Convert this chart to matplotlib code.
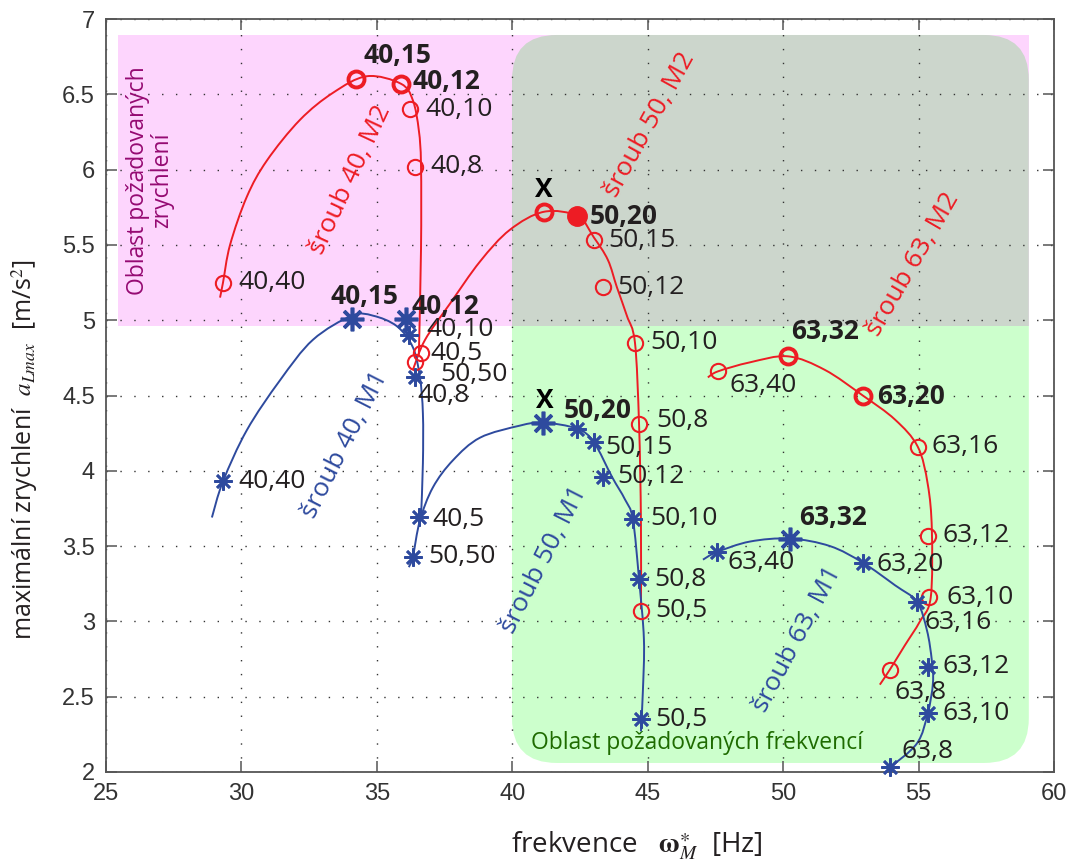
import matplotlib.pyplot as plt
import numpy as np
from matplotlib.path import Path
from matplotlib.patches import PathPatch, Rectangle, FancyBboxPatch

RED = '#ed1c24'
BLUE = '#2e4a9e'
TXT = '#231f20'

# osy
x_ticks = [25, 30, 35, 40, 45, 50, 55, 60]
x_tick_labels = ['25', '30', '35', '40', '45', '50', '55', '60']
y_ticks = [2, 2.5, 3, 3.5, 4, 4.5, 5, 5.5, 6, 6.5, 7]
y_tick_labels = ['2', '2.5', '3', '3.5', '4', '4.5', '5', '5.5', '6', '6.5', '7']

# oblasti (frekvence, zrychleni)
acc_region_x = [25.44, 59.07]
acc_region_y = [4.962, 6.894]
freq_region_x = [39.99, 59.07]
freq_region_y = [2.06, 6.894]

# sroub 40, M2 (cervena)
r40_cx = [29.21, 29.32, 29.58, 30.20, 30.94, 32.16, 33.38, 34.63, 35.89, 36.33, 36.55, 36.63, 36.63, 36.55]
r40_cy = [5.15, 5.25, 5.50, 5.82, 6.06, 6.33, 6.51, 6.62, 6.57, 6.46, 6.26, 6.03, 5.47, 4.77]
r40_x = [29.32, 34.23, 35.89, 36.22, 36.41, 36.63]
r40_y = [5.25, 6.60, 6.57, 6.40, 6.02, 4.78]
r40_lab = ['40,40', '40,15', '40,12', '40,10', '40,8', '40,5']

# sroub 50, M2
r50_cx = [36.33, 36.78, 37.70, 38.81, 39.91, 41.17, 42.42, 43.01, 43.53, 43.86, 44.23, 44.53, 44.68, 44.75, 44.75]
r50_cy = [4.67, 4.87, 5.11, 5.39, 5.60, 5.72, 5.69, 5.55, 5.40, 5.22, 5.03, 4.85, 4.31, 3.67, 3.08]
r50_x = [36.41, 41.17, 42.39, 43.01, 43.35, 44.53, 44.68, 44.75]
r50_y = [4.72, 5.72, 5.69, 5.53, 5.22, 4.85, 4.31, 3.07]
r50_lab = ['50,50', 'X', '50,20', '50,15', '50,12', '50,10', '50,8', '50,5']

# sroub 63, M2
r63_cx = [47.22, 47.59, 48.77, 50.18, 51.54, 52.94, 54.13, 54.97, 55.34, 55.49, 55.45, 55.05, 54.49, 53.94, 53.57]
r63_cy = [4.62, 4.66, 4.72, 4.76, 4.67, 4.50, 4.34, 4.16, 3.91, 3.61, 3.16, 3.00, 2.84, 2.68, 2.58]
r63_x = [47.59, 50.18, 52.94, 54.97, 55.34, 55.38, 53.94]
r63_y = [4.66, 4.76, 4.50, 4.16, 3.57, 3.16, 2.68]
r63_lab = ['63,40', '63,32', '63,20', '63,16', '63,12', '63,10', '63,8']

# sroub 40, M1 (modra)
b40_cx = [28.91, 29.32, 30.20, 31.42, 32.64, 34.08, 34.86, 35.74, 36.33, 36.59, 36.70, 36.70, 36.63]
b40_cy = [3.69, 3.93, 4.27, 4.60, 4.87, 5.03, 5.03, 4.96, 4.82, 4.62, 4.38, 4.05, 3.69]
b40_x = [29.32, 34.08, 36.07, 36.18, 36.41, 36.55]
b40_y = [3.93, 5.01, 5.01, 4.90, 4.62, 3.69]
b40_lab = ['40,40', '40,15', '40,12', '40,10', '40,8', '40,5']

# sroub 50, M1
b50_cx = [36.18, 36.33, 36.59, 37.07, 37.81, 38.81, 40.28, 41.13, 42.39, 43.01, 43.68, 44.16, 44.45, 44.68, 44.86, 44.82, 44.75]
b50_cy = [3.36, 3.43, 3.67, 3.89, 4.07, 4.22, 4.30, 4.32, 4.28, 4.19, 3.96, 3.81, 3.68, 3.28, 2.88, 2.53, 2.27]
b50_x = [36.33, 41.13, 42.39, 43.01, 43.35, 44.45, 44.68, 44.75]
b50_y = [3.43, 4.32, 4.28, 4.19, 3.96, 3.68, 3.28, 2.35]
b50_lab = ['50,50', 'X', '50,20', '50,15', '50,12', '50,10', '50,8', '50,5']

# sroub 63, M1
b63_cx = [47.04, 47.55, 48.77, 50.25, 51.73, 52.94, 54.13, 54.94, 55.31, 55.49, 55.53, 55.34, 54.94, 53.94]
b63_cy = [3.41, 3.46, 3.53, 3.55, 3.50, 3.39, 3.24, 3.13, 2.94, 2.74, 2.59, 2.39, 2.19, 2.03]
b63_x = [47.55, 50.25, 52.94, 54.94, 55.34, 55.34, 53.94]
b63_y = [3.46, 3.55, 3.39, 3.13, 2.70, 2.39, 2.03]
b63_lab = ['63,40', '63,32', '63,20', '63,16', '63,12', '63,10', '63,8']

curve_names = ['šroub 40, M2', 'šroub 50, M2', 'šroub 63, M2',
               'šroub 40, M1', 'šroub 50, M1', 'šroub 63, M1']
curve_name_x = [34.01, 45.08, 54.79, 33.82, 41.17, 50.54]
curve_name_y = [5.93, 6.30, 5.37, 4.17, 3.41, 2.88]

# rozlozeni popisku (posun v pixelech, zarovnani)
label_offsets = {
    'r40': [(15, 0, 'left'), (41, 24, 'center'), (12, 2, 'left'), (15, 0, 'left'), (15, 0, 'left'), (9, 0, 'left')],
    'r50': [(25, -12, 'left'), (0, 22, 'center'), (13, 0, 'left'), (14, 0, 'left'), (14, 0, 'left'),
            (15, 0, 'left'), (17, 4, 'left'), (14, 0, 'left')],
    'r63': [(12, -14, 'left'), (37, 25, 'center'), (14, -1, 'left'), (14, 0, 'left'), (15, 0, 'left'),
            (18, 0, 'left'), (5, -23, 'left')],
    'b40': [(15, 0, 'left'), (13, 22, 'center'), (6, 12, 'left'), (18, 6, 'left'), (2, -18, 'left'), (14, -2, 'left')],
    'b50': [(15, 0, 'left'), (2, 22, 'center'), (21, 18, 'center'), (11, -5, 'left'), (14, 0, 'left'),
            (17, 0, 'left'), (15, 0, 'left'), (14, 0, 'left')],
    'b63': [(11, -10, 'left'), (43, 21, 'center'), (14, -2, 'left'), (8, -21, 'left'), (15, 0, 'left'),
            (15, 0, 'left'), (12, 16, 'left')],
}
curve_name_angle = [65, 61, 60, 63, 63, 62]


def curvePath(xs, ys):
    # Catmull-Rom -> Bezier, kresli matplotlib Path
    pts = np.column_stack([xs, ys])
    p = np.vstack([pts[0], pts, pts[-1]])
    verts = [pts[0]]
    codes = [Path.MOVETO]
    for i in range(1, len(p) - 2):
        p0, p1, p2, p3 = p[i - 1], p[i], p[i + 1], p[i + 2]
        verts += [p1 + (p2 - p0) / 6.0, p2 - (p3 - p1) / 6.0, p2]
        codes += [Path.CURVE4] * 3
    return Path(verts, codes)


def drawSeries(ax, key, cx, cy, xs, ys, labels, color, circle, big, bold, filled=()):
    ax.add_patch(PathPatch(curvePath(cx, cy), fill=False, ec=color, lw=1.4, zorder=3))
    for i in range(len(xs)):
        if circle:
            if i in filled:
                ax.plot(xs[i], ys[i], 'o', ms=14, mfc=color, mec=color, zorder=4, clip_on=False)
            elif i in big:
                ax.plot(xs[i], ys[i], 'o', ms=11.5, mfc='none', mec=color, mew=2.8, zorder=4, clip_on=False)
            else:
                ax.plot(xs[i], ys[i], 'o', ms=11, mfc='none', mec=color, mew=1.5, zorder=4, clip_on=False)
        else:
            if i in big:
                ax.plot(xs[i], ys[i], marker=(8, 2, 0), ms=17, mec=color, mew=2.6, zorder=4, clip_on=False)
            else:
                ax.plot(xs[i], ys[i], marker=(8, 2, 0), ms=13, mec=color, mew=1.9, zorder=4, clip_on=False)
        dx, dy, ha = label_offsets[key][i]
        ax.annotate(labels[i], (xs[i], ys[i]), xytext=(dx, dy), textcoords='offset pixels',
                    ha=ha, va='center', fontsize=19, color='black' if labels[i] == 'X' else TXT,
                    fontweight='bold' if i in bold else 'normal', family='Open Sans', zorder=5)


def plotChart():
    plt.rcParams['mathtext.fontset'] = 'stix'
    fig = plt.figure(figsize=(10.74, 8.64), dpi=100)
    ax = fig.add_axes([106 / 1074, 92 / 864, 948 / 1074, 753 / 864])
    ax.set_xlim(25, 60)
    ax.set_ylim(2, 7)

    # pozadi
    asp = 27.09 / 150.6
    green = FancyBboxPatch((freq_region_x[0], freq_region_y[0]), freq_region_x[1] - freq_region_x[0],
                           freq_region_y[1] - freq_region_y[0], boxstyle='round,pad=0,rounding_size=1.65',
                           mutation_aspect=asp, fc='#ccffcc', ec='none', zorder=0)
    ax.add_patch(green)
    pink = Rectangle((acc_region_x[0], acc_region_y[0]), acc_region_x[1] - acc_region_x[0],
                     acc_region_y[1] - acc_region_y[0], fc='#fdd5fd', ec='none', zorder=0.1)
    ax.add_patch(pink)
    gray = FancyBboxPatch((freq_region_x[0], freq_region_y[0]), freq_region_x[1] - freq_region_x[0],
                          freq_region_y[1] - freq_region_y[0], boxstyle='round,pad=0,rounding_size=1.65',
                          mutation_aspect=asp, fc='#ccd6cc', ec='none', zorder=0.2)
    ax.add_patch(gray)
    gray.set_clip_path(pink)

    ax.text(26.62, 5.93, 'Oblast požadovaných\nzrychlení', rotation=90, ha='center', va='center',
            fontsize=16.5, color='#950a72', family='Open Sans', linespacing=1.0)
    ax.text(46.82, 2.19, 'Oblast požadovaných frekvencí', ha='center', va='center',
            fontsize=16.5, color='#1e6b00', family='Open Sans')

    drawSeries(ax, 'r40', r40_cx, r40_cy, r40_x, r40_y, r40_lab, RED, True, (1, 2), (1, 2))
    drawSeries(ax, 'r50', r50_cx, r50_cy, r50_x, r50_y, r50_lab, RED, True, (1,), (1, 2), filled=(2,))
    drawSeries(ax, 'r63', r63_cx, r63_cy, r63_x, r63_y, r63_lab, RED, True, (1, 2), (1, 2))
    drawSeries(ax, 'b40', b40_cx, b40_cy, b40_x, b40_y, b40_lab, BLUE, False, (1, 2), (1, 2))
    drawSeries(ax, 'b50', b50_cx, b50_cy, b50_x, b50_y, b50_lab, BLUE, False, (1,), (1, 2))
    drawSeries(ax, 'b63', b63_cx, b63_cy, b63_x, b63_y, b63_lab, BLUE, False, (1,), (1,))

    for i, name in enumerate(curve_names):
        ax.text(curve_name_x[i], curve_name_y[i], name, rotation=curve_name_angle[i],
                rotation_mode='anchor', ha='center', va='center', fontsize=19,
                color=RED if i < 3 else BLUE, family='Open Sans', zorder=5)

    ax.set_axisbelow(True)
    ax.grid(True, linestyle=(0, (1, 9)), color='#333333', lw=1.0)
    ax.set_xticks(x_ticks)
    ax.set_xticklabels(x_tick_labels)
    ax.set_yticks(y_ticks)
    ax.set_yticklabels(y_tick_labels)
    ax.tick_params(direction='in', length=8, width=1.1, top=True, right=True, colors='#555555',
                   labelcolor='#333333', labelsize=17, pad=8)
    for lab in ax.get_xticklabels() + ax.get_yticklabels():
        lab.set_family('Liberation Sans')
    for s in ax.spines.values():
        s.set_color('#555555')
        s.set_linewidth(1.3)

    ax.set_xlabel(r'frekvence   $\mathbf{\omega}^{\ast}_{M}$  [Hz]', fontsize=20, family='Open Sans', color=TXT)
    ax.xaxis.set_label_coords(0.56, -0.077)
    ax.set_ylabel(r'maximální zrychlení  $a_{Lmax}$  [m/s$^{2}$]', fontsize=18, family='Open Sans', color=TXT)
    ax.yaxis.set_label_coords(-0.07, 0.428)

    fig.savefig('out.png', dpi=100)


if __name__ == "__main__":
    plotChart()
